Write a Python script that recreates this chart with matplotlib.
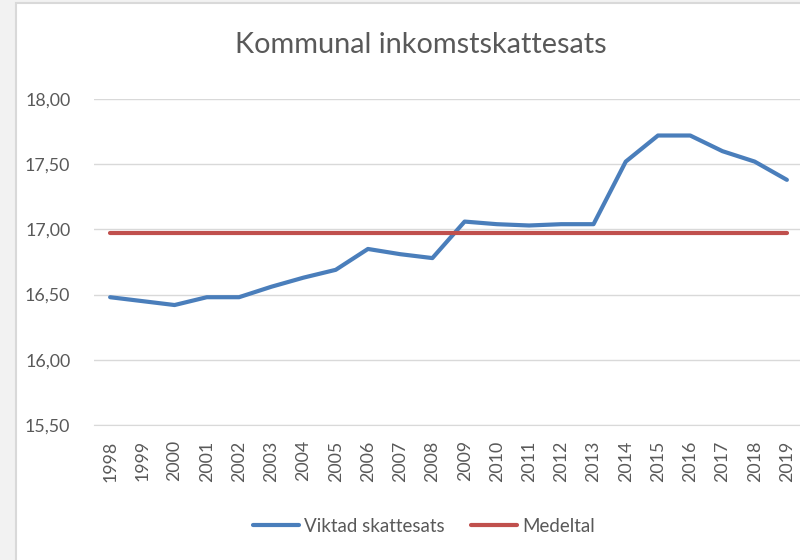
import matplotlib
matplotlib.use("Agg")
import matplotlib.pyplot as plt
from matplotlib.patches import Rectangle

plt.rcParams['font.family'] = ['Lato', 'DejaVu Sans']

years = [str(y) for y in range(1998, 2020)]
viktad = [16.48, 16.45, 16.42, 16.48, 16.48, 16.56, 16.63, 16.69, 16.85, 16.81, 16.78,
          17.06, 17.04, 17.03, 17.04, 17.04, 17.52, 17.72, 17.72, 17.60, 17.52, 17.38]
medeltal = 16.97

GREY = '#595959'

fig = plt.figure(figsize=(8, 5.6), dpi=100)
fig.patch.set_facecolor('#f2f2f2')
# white chart panel with thin grey border
fig.patches.append(Rectangle((16/800, -0.1), 1.0, 1 - 3/560 + 0.1, transform=fig.transFigure,
                             facecolor='white', edgecolor='#d9d9d9', linewidth=1.5, zorder=-1))

ax = fig.add_axes([94/800, 135/560, 709/800, 326/560])
ax.set_facecolor('none')
x = list(range(len(years)))
ax.plot(x, viktad, color='#4a7ebb', linewidth=3, solid_capstyle='round', label='Viktad skattesats', zorder=3)
ax.plot(x, [medeltal]*len(x), color='#c0504d', linewidth=3, solid_capstyle='round', label='Medeltal', zorder=3)

ax.set_xlim(-0.5, len(years) - 0.5)
ax.set_ylim(15.5, 18.0)
yt = [15.5, 16.0, 16.5, 17.0, 17.5, 18.0]
ax.set_yticks(yt)
ax.set_yticklabels([f"{v:.2f}".replace('.', ',') for v in yt])
ax.set_xticks(x)
ax.set_xticklabels(years, rotation=90)
ax.tick_params(axis='both', length=0, colors=GREY, labelsize=12.8)
ax.tick_params(axis='y', pad=17)
ax.tick_params(axis='x', pad=11)
ax.grid(axis='y', color='#d9d9d9', linewidth=1)
for s in ['top', 'right', 'left']:
    ax.spines[s].set_visible(False)
ax.spines['bottom'].set_color('#d9d9d9')
ax.set_axisbelow(True)

fig.text(421/800, 1 - 45/560, 'Kommunal inkomstskattesats', ha='center', va='center',
         fontsize=20.8, color=GREY)

fig.legend(loc='center', bbox_to_anchor=(424/800, 1 - 526/560), ncol=2, frameon=False,
           fontsize=13.5, handlelength=2.45, handletextpad=0.3, columnspacing=1.4,
           labelcolor=GREY)

fig.savefig('out.png', dpi=100, facecolor=fig.get_facecolor())
